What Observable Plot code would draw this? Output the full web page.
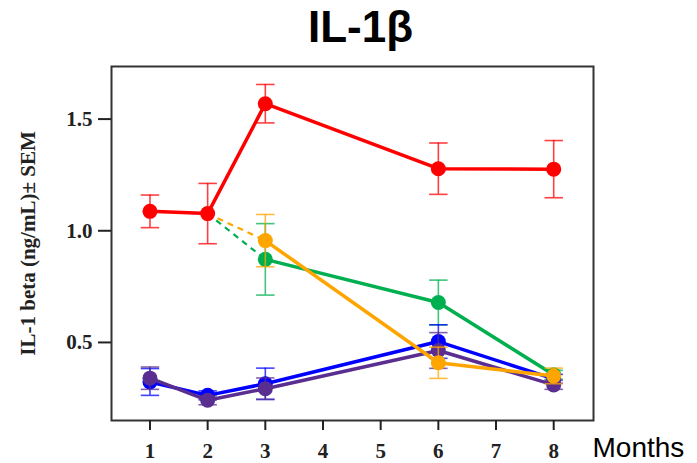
<!DOCTYPE html>
<html>
<head>
<meta charset="utf-8">
<script src="https://cdn.jsdelivr.net/npm/d3@7"></script>
<script src="https://cdn.jsdelivr.net/npm/@observablehq/plot@0.6"></script>
<style>
  html, body { margin: 0; padding: 0; background: #fff; }
  #chart svg { display: block; }
</style>
</head>
<body>
<div id="chart"></div>
<script>
// ---- Data ----
const title = "IL-1β";
const yLabel = "IL-1 beta (ng/mL)± SEM";
const xLabel = "Months";
const xTicks = [1, 2, 3, 4, 5, 6, 7, 8];
const yTicks = [0.5, 1.0, 1.5];

const redMonths = [1, 2, 3, 6, 8];
const redMean = [1.087, 1.077, 1.569, 1.278, 1.276];
const redSem = [0.073, 0.135, 0.086, 0.115, 0.128];

const greenMonths = [3, 6, 8];
const greenMean = [0.872, 0.679, 0.355];
const greenSem = [0.16, 0.10, 0.02];

const orangeMonths = [3, 6, 8];
const orangeMean = [0.956, 0.409, 0.350];
const orangeSem = [0.117, 0.07, 0.035];

const blueMonths = [1, 2, 3, 6, 8];
const blueMean = [0.323, 0.263, 0.315, 0.504, 0.337];
const blueSem = [0.06, 0.02, 0.07, 0.075, 0.02];

const purpleMonths = [1, 2, 3, 6, 8];
const purpleMean = [0.340, 0.241, 0.293, 0.464, 0.310];
const purpleSem = [0.05, 0.02, 0.048, 0.08, 0.02];

// ---- Build tables ----
const seriesDefs = [
  {name: "red", color: "#ff0000", months: redMonths, mean: redMean, sem: redSem},
  {name: "green", color: "#00b050", months: greenMonths, mean: greenMean, sem: greenSem},
  {name: "blue", color: "#0000ff", months: blueMonths, mean: blueMean, sem: blueSem},
  {name: "purple", color: "#5a2d91", months: purpleMonths, mean: purpleMean, sem: purpleSem},
  {name: "orange", color: "#ffa500", months: orangeMonths, mean: orangeMean, sem: orangeSem}
];
const rows = s => s.months.map((m, i) => ({series: s.name, month: m, mean: s.mean[i], sem: s.sem[i]}));

// dashed connectors: from red month-2 point to the first point of green / orange
const dashed = [
  [{month: redMonths[1], mean: redMean[1]}, {month: greenMonths[0], mean: greenMean[0]}, "#00b050"],
  [{month: redMonths[1], mean: redMean[1]}, {month: orangeMonths[0], mean: orangeMean[0]}, "#ffa500"]
].map(([a, b, c]) => ({x1: a.month, y1: a.mean, x2: b.month, y2: b.mean, color: c}));

// horizontal cap symbol for error bars
const capSymbol = {
  draw(context, size) {
    const w = Math.sqrt(size);
    context.moveTo(-w, 0);
    context.lineTo(w, 0);
  }
};

const marks = [];
marks.push(Plot.link(dashed, {
  x1: "x1", y1: "y1", x2: "x2", y2: "y2",
  stroke: "color", strokeWidth: 2.2, strokeDasharray: "6,5"
}));
for (const s of seriesDefs) {
  const d = rows(s);
  marks.push(Plot.ruleX(d, {x: "month", y1: r => r.mean - r.sem, y2: r => r.mean + r.sem, stroke: s.color, strokeWidth: 1.6, strokeOpacity: 0.75}));
  marks.push(Plot.dot(d, {x: "month", y: r => r.mean - r.sem, symbol: capSymbol, r: 5.2, stroke: s.color, strokeWidth: 1.6, strokeOpacity: 0.75}));
  marks.push(Plot.dot(d, {x: "month", y: r => r.mean + r.sem, symbol: capSymbol, r: 5.2, stroke: s.color, strokeWidth: 1.6, strokeOpacity: 0.75}));
  marks.push(Plot.line(d, {x: "month", y: "mean", stroke: s.color, strokeWidth: 3.5}));
  marks.push(Plot.dot(d, {x: "month", y: "mean", r: 7.5, fill: s.color, stroke: "none"}));
}

marks.push(Plot.frame({stroke: "#333", strokeWidth: 2}));
marks.push(Plot.axisX(xTicks, {
  tickSize: 10, tickPadding: 13, stroke: "#222", strokeWidth: 2,
  fontSize: 21, fontWeight: "bold", fontFamily: "Liberation Serif", fill: "#222",
  tickFormat: d => String(d), label: null
}));
marks.push(Plot.axisY(yTicks, {
  tickSize: 13, tickPadding: 6, stroke: "#222", strokeWidth: 2,
  fontSize: 21, fontWeight: "bold", fontFamily: "Liberation Serif", fill: "#222",
  tickFormat: d => d.toFixed(1), label: null
}));
marks.push(Plot.text([yLabel], {
  frameAnchor: "left", rotate: -90, dx: -83, textAnchor: "middle", lineAnchor: "middle", text: d => d,
  fontSize: 21, fontWeight: "bold", fontFamily: "Liberation Serif", fill: "#222"
}));
marks.push(Plot.text([title], {
  frameAnchor: "top", dx: 8, dy: -25, lineAnchor: "bottom", text: d => d,
  fontSize: 44, fontWeight: "bold", fontFamily: "Liberation Sans", fill: "#000"
}));
marks.push(Plot.text([xLabel], {
  frameAnchor: "bottom-right", dx: -1, dy: 36, lineAnchor: "bottom", textAnchor: "start", text: d => d,
  fontSize: 28, fontFamily: "Liberation Sans", fill: "#000"
}));

const chart = Plot.plot({
  width: 697,
  height: 463,
  marginLeft: 111,
  marginRight: 104,
  marginTop: 66,
  marginBottom: 43,
  x: {domain: [0.333, 8.69], axis: null},
  y: {domain: [0.1505, 1.7355], axis: null},
  style: {background: "#fff", overflow: "visible"},
  marks
});
document.getElementById("chart").appendChild(chart);
</script>
</body>
</html>
